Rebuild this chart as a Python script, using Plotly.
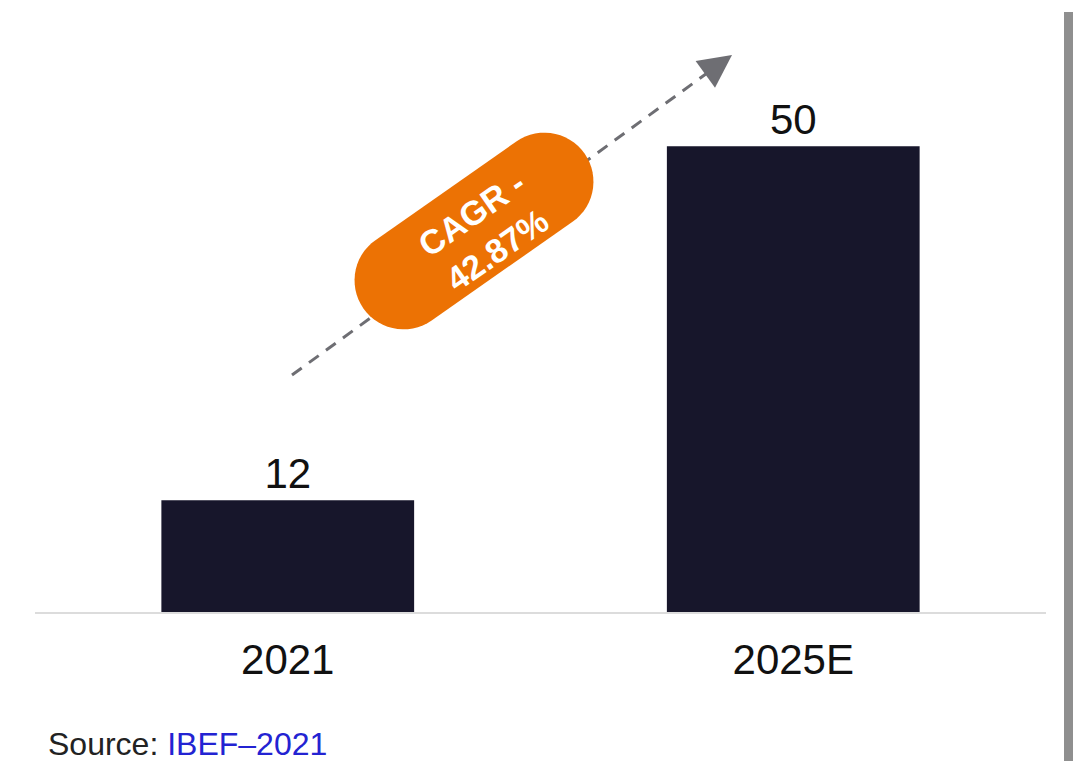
import math
import plotly.graph_objects as go

# ---- data ----
categories = ["2021", "2025E"]
values = [12, 50]
value_labels = ["12", "50"]
cagr_label = "CAGR -<br>42.87%"
source_prefix = "Source: "
source_name = "IBEF–2021"

BAR_COLOR = "#17162b"
ORANGE = "#ec7204"
ARROW_GRAY = "#6e6e73"

OFF = 0  # page body margin (removed via post_script)
W, H = 1073 - OFF, 761 - OFF
ML, MR, MT, MB = 35 - OFF, 27, 53 - OFF, 149
YMAX = 60

fig = go.Figure()
fig.add_trace(go.Bar(
    x=categories, y=values, width=0.5,
    marker=dict(color=BAR_COLOR, line=dict(width=0)),
    text=value_labels, textposition="outside",
    textfont=dict(size=42, color="#111111", family="Liberation Sans, Arial"),
    cliponaxis=False, hoverinfo="skip",
))

# page pixel -> data helpers (for decorations only)
plot_w = W - ML - MR
plot_h = H - MT - MB
def px2x(px):
    return (px - OFF - ML) / plot_w * 2 - 0.5
def py2y(py):
    return (H - MB - (py - OFF)) / plot_h * YMAX
def px2p(px):
    return (px - OFF - ML) / plot_w
def py2p(py):
    return (H - MB - (py - OFF)) / plot_h

# dashed trend arrow
x0p, y0p = 292, 375
x1p, y1p = 732, 55
ang = math.atan2(y0p - y1p, x1p - x0p)
ux, uy = math.cos(ang), -math.sin(ang)
endp = (x1p - ux * 22, y1p - uy * 22)
fig.add_shape(type="line", xref="x", yref="y",
              x0=px2x(x0p), y0=py2y(y0p), x1=px2x(endp[0]), y1=py2y(endp[1]),
              line=dict(color=ARROW_GRAY, width=3, dash="12px,9px"), layer="below")
fig.add_annotation(x=px2x(x1p), y=py2y(y1p), xref="x", yref="y",
                   ax=px2x(x1p - ux * 26), ay=py2y(y1p - uy * 26), axref="x", ayref="y",
                   showarrow=True, arrowhead=2, arrowsize=2.2, arrowwidth=3,
                   arrowcolor=ARROW_GRAY, text="")

# orange pill (stadium) rotated along arrow
cx, cy = 474, 231
half = 86
r = 49
pill_ang = math.radians(35)
dx, dy = math.cos(pill_ang), -math.sin(pill_ang)
pts = []
p2 = (cx + dx * half, cy + dy * half)
p1 = (cx - dx * half, cy - dy * half)
base = math.atan2(dy, dx)
for i in range(0, 31):
    t = base - math.pi / 2 + math.pi * i / 30
    pts.append((p2[0] + r * math.cos(t), p2[1] + r * math.sin(t)))
for i in range(0, 31):
    t = base + math.pi / 2 + math.pi * i / 30
    pts.append((p1[0] + r * math.cos(t), p1[1] + r * math.sin(t)))
path = "M " + " L ".join(f"{px2x(a):.5f},{py2y(b):.5f}" for a, b in pts) + " Z"
fig.add_shape(type="path", path=path, xref="x", yref="y",
              fillcolor=ORANGE, line=dict(width=0), layer="above")
fig.add_annotation(x=px2x(484), y=py2y(232), xref="x", yref="y", showarrow=False,
                   text=f"<b>{cagr_label}</b>", textangle=-35,
                   font=dict(size=34, color="white", family="Liberation Sans, Arial"))

# source
fig.add_annotation(xref="paper", yref="paper", x=px2p(46), y=py2p(744),
                   xanchor="left", yanchor="middle", showarrow=False,
                   text=f"{source_prefix}<span style='color:#2323d2'>{source_name}</span>",
                   font=dict(size=32, color="#222222", family="Liberation Sans, Arial"))

# grey right edge bar
fig.add_shape(type="rect", xref="paper", yref="paper",
              x0=px2p(1064), x1=px2p(1075),
              y0=py2p(12), y1=py2p(765),
              fillcolor="#8f8f8f", line=dict(width=0))

fig.update_layout(
    width=W, height=H, margin=dict(l=ML, r=MR, t=MT, b=MB),
    paper_bgcolor="white", plot_bgcolor="white", showlegend=False,
    xaxis=dict(showline=True, linecolor="#dcdcdc", linewidth=2, ticks="",
               showgrid=False, zeroline=False, range=[-0.5, 1.5],
               tickfont=dict(size=42, color="#111111", family="Liberation Sans, Arial"),
               ticklabelstandoff=10),
    yaxis=dict(visible=False, range=[0, YMAX], showgrid=False, zeroline=False),
)

fig.write_html(
    "out.html",
    config={"displayModeBar": False},
    post_script="document.body.style.margin='0';document.documentElement.style.overflow='hidden';",
)
